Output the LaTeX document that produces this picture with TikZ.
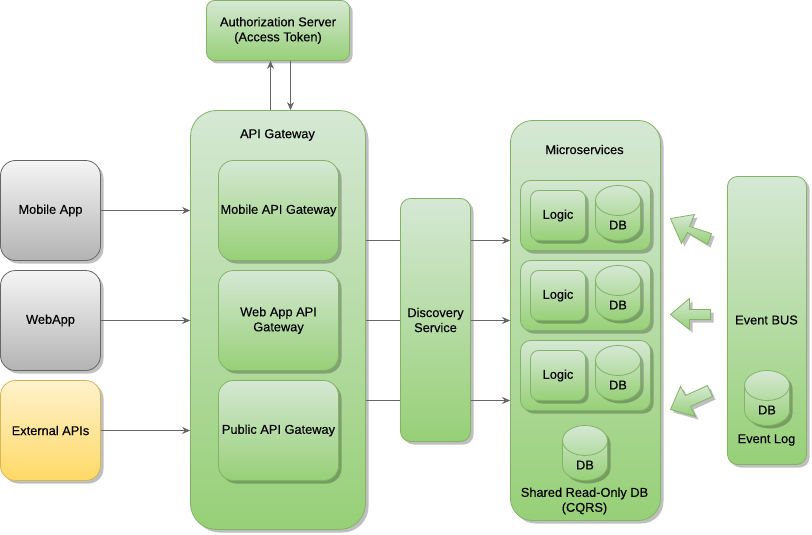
\documentclass[tikz,border=0pt]{standalone}
\usepackage{fontspec}
\setmainfont{Liberation Sans}[FakeBold=0.25]
\usetikzlibrary{arrows.meta, shadows}

\definecolor{greenTop}{HTML}{D5E8D4}
\definecolor{greenBot}{HTML}{97D077}
\definecolor{greenLine}{HTML}{82B366}
\definecolor{grayTop}{HTML}{F5F5F5}
\definecolor{grayBot}{HTML}{B3B3B3}
\definecolor{yellowTop}{HTML}{FFF2CC}
\definecolor{yellowBot}{HTML}{FFD966}
\definecolor{yellowLine}{HTML}{D6B656}
\definecolor{connLine}{HTML}{666666}

\tikzset{
	softshadow/.style = {drop shadow = {shadow xshift = 3pt, shadow yshift = -3pt, fill = black, opacity = 0.25}},
	box/.style = {rectangle, softshadow, line width = 0.8pt, inner sep = 0pt, align = center, font = \fontsize{12.8}{15}\selectfont},
	greenbox/.style = {box, draw = greenLine, top color = greenTop, bottom color = greenBot},
	graybox/.style = {box, draw = connLine, top color = grayTop, bottom color = grayBot},
	yellowbox/.style = {box, draw = yellowLine, top color = yellowTop, bottom color = yellowBot},
	label/.style = {inner sep = 0pt, align = center, font = \fontsize{12.8}{15}\selectfont},
	conn/.style = {draw = connLine, line width = 0.8pt},
	connarrow/.style = {conn, -{Stealth[length = 8pt, width = 7pt]}},
	blockarrow/.style = {softshadow, draw = greenLine, line width = 0.8pt, top color = greenTop, bottom color = greenBot},
}

% cylinder: name, left edge, top edge
\newcommand{\dbcyl}[3]{
	\draw [softshadow, draw = greenLine, line width = 0.8pt, top color = greenTop, bottom color = greenBot]
		(#2,#3+15) arc [start angle = 180, end angle = 0, x radius = 22.5pt, y radius = 15pt]
		-- (#2+45,#3+40) arc [start angle = 0, end angle = -180, x radius = 22.5pt, y radius = 15pt] -- cycle;
	\draw [draw = greenLine, line width = 0.8pt] (#2,#3+15) arc [start angle = 180, end angle = 360, x radius = 22.5pt, y radius = 15pt];
	\node [label] (#1) at (#2+22.5,#3+39.5) {DB};
}

\begin{document}
\begin{tikzpicture}[x = 1pt, y = -1pt]
	\useasboundingbox (0.5,0.5) rectangle (812.5,535.5);

	% clients
	\node [graybox, rounded corners = 15pt, minimum width = 100pt, minimum height = 100pt] (mobile) at (51,211) {Mobile App};
	\node [graybox, rounded corners = 15pt, minimum width = 100pt, minimum height = 100pt] (webapp) at (51,321) {WebApp};
	\node [yellowbox, rounded corners = 15pt, minimum width = 100pt, minimum height = 100pt] (external) at (51,431) {External APIs};

	\node [greenbox, rounded corners = 8pt, minimum width = 143pt, minimum height = 60pt] (auth) at (278.5,31) {Authorization Server\\(Access Token)};

	% gateway
	\node [greenbox, rounded corners = 26pt, minimum width = 175pt, minimum height = 419pt] (gateway) at (278.5,320.5) {};
	\node [label] (gatewaytitle) at (278,135.5) {API Gateway};
	\node [greenbox, rounded corners = 15pt, minimum width = 120pt, minimum height = 100pt] (mobilegw) at (279,211) {Mobile API Gateway};
	\node [greenbox, rounded corners = 15pt, minimum width = 120pt, minimum height = 100pt] (webgw) at (279,321) {Web App API\\Gateway};
	\node [greenbox, rounded corners = 15pt, minimum width = 120pt, minimum height = 100pt] (publicgw) at (279,431) {Public API Gateway};

	\node [greenbox, rounded corners = 10pt, minimum width = 70pt, minimum height = 243pt] (discovery) at (436,320.5) {Discovery\\Service};

	% microservices
	\node [greenbox, rounded corners = 22pt, minimum width = 150pt, minimum height = 400pt] (micro) at (586,321) {};
	\node [label] (microtitle) at (585,150) {Microservices};
	\foreach \n/\y in {a/181, b/261, c/341} {
		\node [greenbox, rounded corners = 10pt, minimum width = 130pt, minimum height = 70pt] (service\n) at (586,\y+35) {};
		\node [greenbox, rounded corners = 8pt, minimum width = 55pt, minimum height = 50pt] (logic\n) at (558.5,\y+35) {Logic};
		\dbcyl{db\n}{596}{\y+5}
	}
	\dbcyl{dbshared}{563}{426}
	\node [label] (sharedlabel) at (585,501.5) {Shared Read-Only DB\\(CQRS)};

	% event bus
	\node [greenbox, rounded corners = 10pt, minimum width = 79pt, minimum height = 288pt] (bus) at (767.5,321) {};
	\node [label] (bustitle) at (767,320.5) {Event BUS};
	\dbcyl{dblog}{745}{371}
	\node [label] (loglabel) at (767,440.5) {Event Log};

	% block arrows
	\draw [blockarrow] (671,219) -- (695,215) -- (690,227) -- (712,234) -- (708,245) -- (688,233) -- (682,244) -- cycle;
	\draw [blockarrow] (671,315) -- (690,299) -- (690,310) -- (711,310) -- (711,320) -- (690,320) -- (690,330) -- cycle;
	\draw [blockarrow] (671,410) -- (681,387) -- (686,396) -- (708,386) -- (713,397) -- (691,407) -- (696,417) -- cycle;

	% connectors
	\draw [connarrow] (mobile.east) -- (gateway.west |- mobile.east);
	\draw [connarrow] (webapp.east) -- (gateway.west |- webapp.east);
	\draw [connarrow] (external.east) -- (gateway.west |- external.east);

	\coordinate (up) at (271,0);
	\coordinate (down) at (291,0);
	\draw [connarrow] (up |- gateway.north) -- (up |- auth.south);
	\draw [connarrow] (down |- auth.south) -- (down |- gateway.north);

	\foreach \n/\y in {a/241, b/321, c/401} {
		\coordinate (row\n) at (0,\y);
		\draw [conn] (gateway.east |- row\n) -- (discovery.west |- row\n);
		\draw [connarrow] (discovery.east |- row\n) -- (micro.west |- row\n);
	}
\end{tikzpicture}
\end{document}
